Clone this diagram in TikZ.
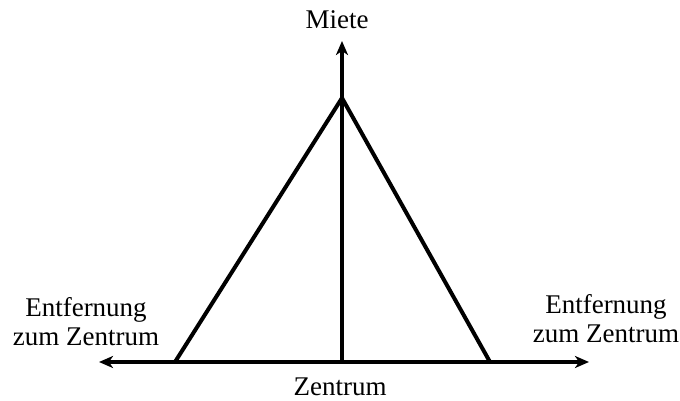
\documentclass[tikz,border=0pt]{standalone}
\usepackage{fontspec}
\setmainfont{Liberation Serif}
\usetikzlibrary{arrows.meta}
\begin{document}
\begin{tikzpicture}[x=1pt,y=-1pt,
  axis/.style={line width=4pt,-{Stealth[length=14pt,width=12pt,inset=4pt]}},
  curve/.style={line width=4pt,line join=miter},
  lbl/.style={font=\fontsize{27}{29}\selectfont,align=center,inner sep=0pt}]
\useasboundingbox (0,0) rectangle (680,401);
\coordinate (O) at (342,362);
\coordinate (L) at (99,362);
\coordinate (R) at (589,362);
\coordinate (T) at (342,41);
\coordinate (P) at (342,98);
\coordinate (A) at (175,362);
\coordinate (B) at (490,362);
\draw[axis] (O) -- (L);
\draw[axis] (O) -- (R);
\draw[axis] (O) -- (T);
\draw[curve] (A) -- (P) -- (B);
\node[lbl] (miete) at (337,20) {Miete};
\node[lbl] (left) at (86,322) {Entfernung\\zum Zentrum};
\node[lbl] (right) at (606,319) {Entfernung\\zum Zentrum};
\node[lbl] (zentrum) at (340,387) {Zentrum};
\end{tikzpicture}
\end{document}
